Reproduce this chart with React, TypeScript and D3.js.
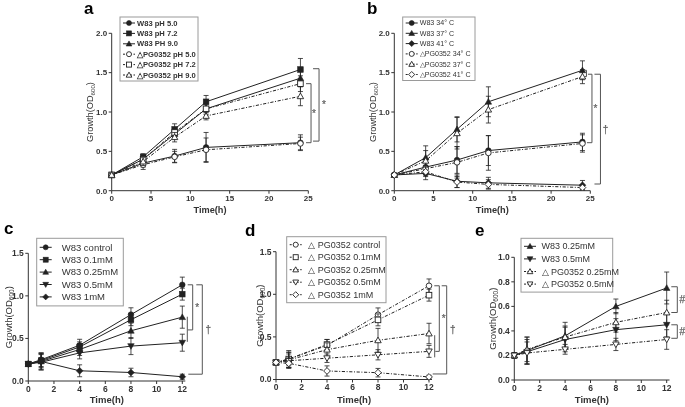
import React from "react";
import * as d3 from "d3";

// ---------- DATA ----------
const timesAB = [0, 4, 8, 12, 24];
const timesCDE = [0, 1, 4, 8, 12];

// Panel a (pH)
const aLabels = ["W83 pH 5.0", "W83 pH 7.2", "W83 PH 9.0", "△PG0352 pH 5.0", "△PG0352 pH 7.2", "△PG0352 pH 9.0"];
const aW83pH5 = [0.2, 0.35, 0.44, 0.55, 0.61];
const aW83pH72 = [0.2, 0.43, 0.78, 1.13, 1.54];
const aW83pH9 = [0.2, 0.4, 0.72, 1.04, 1.43];
const aPGpH5 = [0.2, 0.33, 0.43, 0.52, 0.6];
const aPGpH72 = [0.2, 0.4, 0.74, 1.04, 1.36];
const aPGpH9 = [0.2, 0.37, 0.68, 0.95, 1.2];
const aErrW83pH5 = [0.02, 0.05, 0.085, 0.19, 0.1];
const aErrW83pH72 = [0.02, 0.04, 0.07, 0.08, 0.14];
const aErrW83pH9 = [0.02, 0.04, 0.06, 0.07, 0.1];
const aErrPGpH5 = [0.02, 0.06, 0.07, 0.15, 0.08];
const aErrPGpH72 = [0.02, 0.04, 0.06, 0.05, 0.1];
const aErrPGpH9 = [0.02, 0.05, 0.06, 0.05, 0.12];

// Panel b (temperature)
const bLabels = ["W83 34° C", "W83 37° C", "W83 41° C", "△PG0352 34° C", "△PG0352 37° C", "△PG0352 41° C"];
const bW83t34 = [0.2, 0.3, 0.39, 0.51, 0.62];
const bW83t37 = [0.2, 0.42, 0.78, 1.13, 1.53];
const bW83t41 = [0.2, 0.22, 0.12, 0.1, 0.07];
const bPGt34 = [0.2, 0.28, 0.36, 0.48, 0.6];
const bPGt37 = [0.2, 0.38, 0.73, 1.03, 1.45];
const bPGt41 = [0.2, 0.24, 0.11, 0.08, 0.04];
const bErrW83t34 = [0.02, 0.1, 0.17, 0.19, 0.11];
const bErrW83t37 = [0.02, 0.15, 0.16, 0.19, 0.12];
const bErrW83t41 = [0.02, 0.08, 0.08, 0.07, 0.06];
const bErrPGt34 = [0.02, 0.08, 0.2, 0.22, 0.11];
const bErrPGt37 = [0.02, 0.13, 0.2, 0.17, 0.09];
const bErrPGt41 = [0.02, 0.06, 0.07, 0.06, 0.03];

// Panel c (W83 concentrations)
const cLabels = ["W83 control", "W83 0.1mM", "W83 0.25mM", "W83 0.5mM", "W83 1mM"];
const cControl = [0.2, 0.25, 0.42, 0.78, 1.13];
const cC01 = [0.2, 0.24, 0.4, 0.72, 1.02];
const cC025 = [0.2, 0.23, 0.37, 0.59, 0.75];
const cC05 = [0.2, 0.22, 0.33, 0.41, 0.45];
const cC1 = [0.2, 0.23, 0.12, 0.1, 0.05];
const cErrControl = [0.02, 0.08, 0.07, 0.08, 0.09];
const cErrC01 = [0.02, 0.08, 0.06, 0.07, 0.07];
const cErrC025 = [0.02, 0.09, 0.07, 0.09, 0.13];
const cErrC05 = [0.02, 0.09, 0.07, 0.1, 0.1];
const cErrC1 = [0.02, 0.1, 0.07, 0.05, 0.03];

// Panel d (PG0352 concentrations)
const dLabels = ["△ PG0352 control", "△ PG0352 0.1mM", "△ PG0352 0.25mM", "△ PG0352 0.5mM", "△ PG0352 1mM"];
const dControl = [0.2, 0.24, 0.4, 0.76, 1.1];
const dC01 = [0.2, 0.24, 0.41, 0.7, 0.99];
const dC025 = [0.2, 0.23, 0.35, 0.46, 0.54];
const dC05 = [0.2, 0.22, 0.25, 0.29, 0.33];
const dC1 = [0.2, 0.19, 0.1, 0.08, 0.03];
const dErrControl = [0.02, 0.1, 0.07, 0.08, 0.08];
const dErrC01 = [0.02, 0.08, 0.06, 0.07, 0.07];
const dErrC025 = [0.02, 0.09, 0.08, 0.14, 0.12];
const dErrC05 = [0.02, 0.08, 0.05, 0.06, 0.07];
const dErrC1 = [0.02, 0.06, 0.06, 0.05, 0.02];

// Panel e (comparison)
const eLabels = ["W83 0.25mM", "W83 0.5mM", "△ PG0352 0.25mM", "△ PG0352 0.5mM"];
const eW83c025 = [0.2, 0.24, 0.36, 0.6, 0.75];
const eW83c05 = [0.2, 0.23, 0.33, 0.41, 0.45];
const ePGc025 = [0.2, 0.25, 0.35, 0.47, 0.55];
const ePGc05 = [0.2, 0.22, 0.25, 0.29, 0.33];
const eErrW83c025 = [0.02, 0.11, 0.11, 0.06, 0.13];
const eErrW83c05 = [0.02, 0.1, 0.1, 0.09, 0.1];
const eErrPGc025 = [0.02, 0.1, 0.09, 0.08, 0.1];
const eErrPGc05 = [0.02, 0.09, 0.04, 0.05, 0.08];

// Tick values
const xTicksAB = [0, 5, 10, 15, 20, 25];
const xTicksCDE = [0, 2, 4, 6, 8, 10, 12];
const yTicksAB = [0, 0.5, 1.0, 1.5, 2.0];
const yTicksCD = [0, 0.5, 1.0, 1.5];
const yTicksE = [0, 0.2, 0.4, 0.6, 0.8, 1.0];

// ---------- RENDERING ----------
type Shape = "circle" | "square" | "triangle" | "triangleDown" | "diamond";
interface Series {
  label: string;
  values: number[];
  errors: number[];
  shape: Shape;
  open: boolean;
}
interface Bracket {
  dx: number;
  y0: number;
  y1: number;
  tick0: number;
  tick1: number;
  symbol?: string;
  symDx?: number;
}

const FONT = "'Liberation Sans', Arial, Helvetica, sans-serif";
const INK = "#222";
const AXIS = "#333";

function Marker({ shape, open, x, y, r = 2.8 }: { shape: Shape; open: boolean; x: number; y: number; r?: number }) {
  const fill = open ? "#fff" : INK;
  const stroke = INK;
  const sw = open ? 0.9 : 0.6;
  if (shape === "circle") return <circle cx={x} cy={y} r={r} fill={fill} stroke={stroke} strokeWidth={sw} />;
  if (shape === "square")
    return <rect x={x - r} y={y - r} width={2 * r} height={2 * r} fill={fill} stroke={stroke} strokeWidth={sw} />;
  if (shape === "triangle") {
    const rr = r * 1.15;
    return (
      <path
        d={`M${x},${y - rr}L${x + rr},${y + rr * 0.75}L${x - rr},${y + rr * 0.75}Z`}
        fill={fill}
        stroke={stroke}
        strokeWidth={sw}
      />
    );
  }
  if (shape === "triangleDown") {
    const rr = r * 1.15;
    return (
      <path
        d={`M${x},${y + rr}L${x + rr},${y - rr * 0.75}L${x - rr},${y - rr * 0.75}Z`}
        fill={fill}
        stroke={stroke}
        strokeWidth={sw}
      />
    );
  }
  const rr = r * 1.2;
  return (
    <path d={`M${x},${y - rr}L${x + rr},${y}L${x},${y + rr}L${x - rr},${y}Z`} fill={fill} stroke={stroke} strokeWidth={sw} />
  );
}

interface PanelProps {
  letter: string;
  letterX: number;
  letterY: number;
  times: number[];
  xDomain: [number, number];
  xRange: [number, number];
  xAxisEnd: number;
  yDomain: [number, number];
  yRange: [number, number];
  xTicks: number[];
  yTicks: number[];
  yFmt: (v: number) => string;
  series: Series[];
  legend: { x: number; y: number; w: number; rowH: number; font: number; textDx: number; bold: boolean; padTop: number };
  brackets: Bracket[];
  yLabelX: number;
  xLabelY: number;
  tickFont: number;
  labelFont: number;
}

function Panel(p: PanelProps) {
  const x = d3.scaleLinear().domain(p.xDomain).range(p.xRange);
  const y = d3.scaleLinear().domain(p.yDomain).range(p.yRange);
  const line = d3
    .line<number>()
    .x((_, i) => x(p.times[i]))
    .y((v) => y(v));
  const x0 = x(p.xDomain[0]);
  const y0 = y(0);
  const yTop = y(p.yTicks[p.yTicks.length - 1]);
  const lastX = x(p.times[p.times.length - 1]);
  const dash = "3.2,1.6,1,1.6";
  const lg = p.legend;
  const legH = lg.padTop * 2 + lg.rowH * (p.series.length - 1) + 2;
  return (
    <g>
      <text x={p.letterX} y={p.letterY} fontFamily={FONT} fontWeight="bold" fontSize={17} fill="#000">
        {p.letter}
      </text>
      <line x1={x0} x2={x0} y1={y0} y2={yTop} stroke={AXIS} strokeWidth={1} />
      <line x1={x0} x2={p.xAxisEnd} y1={y0} y2={y0} stroke={AXIS} strokeWidth={1} />
      {p.yTicks.map((t) => (
        <g key={"y" + t}>
          <line x1={x0 - 3} x2={x0} y1={y(t)} y2={y(t)} stroke={AXIS} strokeWidth={1} />
          <text
            x={x0 - 4.5}
            y={y(t)}
            dy="0.35em"
            textAnchor="end"
            fontFamily={FONT}
            fontWeight="bold"
            fontSize={p.tickFont}
            fill="#333"
          >
            {p.yFmt(t)}
          </text>
        </g>
      ))}
      {p.xTicks.map((t) => (
        <g key={"x" + t}>
          <line x1={x(t)} x2={x(t)} y1={y0} y2={y0 + 3} stroke={AXIS} strokeWidth={1} />
          <text
            x={x(t)}
            y={y0 + 4}
            dy="0.8em"
            textAnchor="middle"
            fontFamily={FONT}
            fontWeight="bold"
            fontSize={p.tickFont}
            fill="#333"
          >
            {t}
          </text>
        </g>
      ))}
      <text
        x={(x0 + p.xAxisEnd) / 2}
        y={p.xLabelY}
        textAnchor="middle"
        fontFamily={FONT}
        fontWeight="bold"
        fontSize={p.labelFont}
        fill="#333"
      >
        Time(h)
      </text>
      <text
        transform={`translate(${p.yLabelX},${(y0 + yTop) / 2}) rotate(-90)`}
        textAnchor="middle"
        fontFamily={FONT}
        fontSize={p.labelFont}
        fill="#333"
      >
        Growth(OD<tspan fontSize={p.labelFont - 3} dy="2">600</tspan>
        <tspan dy="-2">)</tspan>
      </text>
      {p.series.map((s, si) => (
        <g key={"s" + si}>
          <path d={line(s.values) || ""} fill="none" stroke={INK} strokeWidth={1} strokeDasharray={s.open ? dash : undefined} />
          {s.values.map((v, i) => {
            const cx = x(p.times[i]);
            const hi = y(v + s.errors[i]);
            const lo = y(v - s.errors[i]);
            return (
              <g key={i}>
                <line x1={cx} x2={cx} y1={hi} y2={lo} stroke={INK} strokeWidth={0.8} />
                <line x1={cx - 2.5} x2={cx + 2.5} y1={hi} y2={hi} stroke={INK} strokeWidth={0.8} />
                <line x1={cx - 2.5} x2={cx + 2.5} y1={lo} y2={lo} stroke={INK} strokeWidth={0.8} />
              </g>
            );
          })}
          {s.values.map((v, i) => (
            <Marker key={"m" + i} shape={s.shape} open={s.open} x={x(p.times[i])} y={y(v)} />
          ))}
        </g>
      ))}
      <rect x={lg.x} y={lg.y} width={lg.w} height={legH} fill="#fff" stroke="#9a9a9a" strokeWidth={1} />
      {p.series.map((s, i) => {
        const ry = lg.y + lg.padTop + 1 + i * lg.rowH;
        const lx = lg.x + 3;
        return (
          <g key={"l" + i}>
            <line x1={lx} x2={lx + 12} y1={ry} y2={ry} stroke={INK} strokeWidth={1} strokeDasharray={s.open ? "2,1.5" : undefined} />
            <Marker shape={s.shape} open={s.open} x={lx + 6} y={ry} r={2.5} />
            <text
              x={lg.x + lg.textDx}
              y={ry}
              dy="0.35em"
              fontFamily={FONT}
              fontWeight={lg.bold ? "bold" : "normal"}
              fontSize={lg.font}
              fill="#333"
            >
              {s.label}
            </text>
          </g>
        );
      })}
      {p.brackets.map((b, i) => {
        const bx = lastX + b.dx;
        const ya = y(b.y0);
        const yb = y(b.y1);
        return (
          <g key={"b" + i}>
            <path
              d={`M${bx - b.tick0},${ya}H${bx}V${yb}H${bx - b.tick1}`}
              fill="none"
              stroke="#555"
              strokeWidth={1}
            />
            {b.symbol && (
              <text
                x={bx + (b.symDx ?? 5)}
                y={(ya + yb) / 2}
                dy="0.35em"
                textAnchor="middle"
                fontFamily={FONT}
                fontSize={10}
                fill="#666"
                stroke="#666"
                strokeWidth={0.25}
              >
                {b.symbol}
              </text>
            )}
          </g>
        );
      })}
    </g>
  );
}

function mk(labels: string[], vals: number[][], errs: number[][], shapes: Shape[], opens: boolean[]): Series[] {
  return labels.map((label, i) => ({ label, values: vals[i], errors: errs[i], shape: shapes[i], open: opens[i] }));
}

const fmt1 = (v: number) => v.toFixed(1);

export default function App() {
  const seriesA = mk(
    aLabels,
    [aW83pH5, aW83pH72, aW83pH9, aPGpH5, aPGpH72, aPGpH9],
    [aErrW83pH5, aErrW83pH72, aErrW83pH9, aErrPGpH5, aErrPGpH72, aErrPGpH9],
    ["circle", "square", "triangle", "circle", "square", "triangle"],
    [false, false, false, true, true, true]
  );
  const seriesB = mk(
    bLabels,
    [bW83t34, bW83t37, bW83t41, bPGt34, bPGt37, bPGt41],
    [bErrW83t34, bErrW83t37, bErrW83t41, bErrPGt34, bErrPGt37, bErrPGt41],
    ["circle", "triangle", "diamond", "circle", "triangle", "diamond"],
    [false, false, false, true, true, true]
  );
  const seriesC = mk(
    cLabels,
    [cControl, cC01, cC025, cC05, cC1],
    [cErrControl, cErrC01, cErrC025, cErrC05, cErrC1],
    ["circle", "square", "triangle", "triangleDown", "diamond"],
    [false, false, false, false, false]
  );
  const seriesD = mk(
    dLabels,
    [dControl, dC01, dC025, dC05, dC1],
    [dErrControl, dErrC01, dErrC025, dErrC05, dErrC1],
    ["circle", "square", "triangle", "triangleDown", "diamond"],
    [true, true, true, true, true]
  );
  const seriesE = mk(
    eLabels,
    [eW83c025, eW83c05, ePGc025, ePGc05],
    [eErrW83c025, eErrW83c05, eErrPGc025, eErrPGc05],
    ["triangle", "triangleDown", "triangle", "triangleDown"],
    [false, false, true, true]
  );

  return (
    <svg
      width={685}
      height={407}
      viewBox="0 0 685 407"
      style={{ position: "absolute", left: 0, top: 0, background: "#fff", willChange: "transform" }}
    >
      <rect x={0} y={0} width={685} height={407} fill="#fff" />
      <Panel
        letter="a"
        letterX={84}
        letterY={14}
        times={timesAB}
        xDomain={[0, 25]}
        xRange={[111.7, 308.3]}
        xAxisEnd={308.3}
        yDomain={[0, 2]}
        yRange={[190.7, 33.3]}
        xTicks={xTicksAB}
        yTicks={yTicksAB}
        yFmt={fmt1}
        series={seriesA}
        legend={{ x: 120, y: 17, w: 78, rowH: 10.4, font: 7.6, textDx: 17, bold: true, padTop: 5 }}
        brackets={[
          { dx: 18.6, y0: 1.55, y1: 0.63, tick0: 6, tick1: 6, symbol: "*", symDx: 5 },
          { dx: 10.6, y0: 1.36, y1: 0.61, tick0: 5, tick1: 5, symbol: "*", symDx: 3 },
        ]}
        yLabelX={92.5}
        xLabelY={213}
        tickFont={8}
        labelFont={9.2}
      />
      <Panel
        letter="b"
        letterX={367}
        letterY={14}
        times={timesAB}
        xDomain={[0, 25]}
        xRange={[394.3, 590.3]}
        xAxisEnd={590.3}
        yDomain={[0, 2]}
        yRange={[190.7, 33.3]}
        xTicks={xTicksAB}
        yTicks={yTicksAB}
        yFmt={fmt1}
        series={seriesB}
        legend={{ x: 402.7, y: 17, w: 72.3, rowH: 10.3, font: 7.1, textDx: 17, bold: false, padTop: 5 }}
        brackets={[
          { dx: 4, y0: 1.53, y1: 1.45, tick0: 2, tick1: 2 },
          { dx: 9.5, y0: 1.48, y1: 0.61, tick0: 4, tick1: 5, symbol: "*", symDx: 3.5 },
          { dx: 18, y0: 1.48, y1: 0.085, tick0: 6, tick1: 6, symbol: "†", symDx: 5 },
        ]}
        yLabelX={376}
        xLabelY={213}
        tickFont={8}
        labelFont={9.2}
      />
      <Panel
        letter="c"
        letterX={4}
        letterY={234}
        times={timesCDE}
        xDomain={[0, 12]}
        xRange={[28.3, 182.3]}
        xAxisEnd={185.3}
        yDomain={[0, 1.5]}
        yRange={[381, 253.3]}
        xTicks={xTicksCDE}
        yTicks={yTicksCD}
        yFmt={fmt1}
        series={seriesC}
        legend={{ x: 36.7, y: 238.3, w: 86.6, rowH: 12.4, font: 9.5, textDx: 25, bold: false, padTop: 8 }}
        brackets={[
          { dx: 10.4, y0: 1.13, y1: 0.6, tick0: 5, tick1: 5, symbol: "*", symDx: 4.5 },
          { dx: 5, y0: 0.755, y1: 0.46, tick0: 0, tick1: 0 },
          { dx: 20, y0: 1.13, y1: 0.08, tick0: 6, tick1: 14, symbol: "†", symDx: 6 },
        ]}
        yLabelX={12}
        xLabelY={403}
        tickFont={8.5}
        labelFont={9.5}
      />
      <Panel
        letter="d"
        letterX={245}
        letterY={236}
        times={timesCDE}
        xDomain={[0, 12]}
        xRange={[276, 429]}
        xAxisEnd={432}
        yDomain={[0, 1.5]}
        yRange={[379.5, 251.7]}
        xTicks={xTicksCDE}
        yTicks={yTicksCD}
        yFmt={fmt1}
        series={seriesD}
        legend={{ x: 286.7, y: 236.7, w: 99.3, rowH: 12.5, font: 9, textDx: 21.5, bold: false, padTop: 7 }}
        brackets={[
          { dx: 10.3, y0: 1.1, y1: 0.33, tick0: 5, tick1: 4, symbol: "*", symDx: 4.5 },
          { dx: 5.7, y0: 0.52, y1: 0.26, tick0: 0, tick1: 0 },
          { dx: 17.7, y0: 1.1, y1: 0.065, tick0: 5, tick1: 14, symbol: "†", symDx: 6 },
        ]}
        yLabelX={263}
        xLabelY={403}
        tickFont={8.5}
        labelFont={9.5}
      />
      <Panel
        letter="e"
        letterX={475}
        letterY={236}
        times={timesCDE}
        xDomain={[0, 12]}
        xRange={[514.3, 666.7]}
        xAxisEnd={669.5}
        yDomain={[0, 1]}
        yRange={[380, 257.3]}
        xTicks={xTicksCDE}
        yTicks={yTicksE}
        yFmt={fmt1}
        series={seriesE}
        legend={{ x: 521, y: 238.3, w: 91.7, rowH: 12.6, font: 9, textDx: 20.5, bold: false, padTop: 7 }}
        brackets={[
          { dx: 10.6, y0: 0.76, y1: 0.55, tick0: 6, tick1: 6, symbol: "#", symDx: 5 },
          { dx: 10.6, y0: 0.45, y1: 0.34, tick0: 6, tick1: 6, symbol: "#", symDx: 5 },
        ]}
        yLabelX={495.5}
        xLabelY={403}
        tickFont={8.5}
        labelFont={9.5}
      />
    </svg>
  );
}
